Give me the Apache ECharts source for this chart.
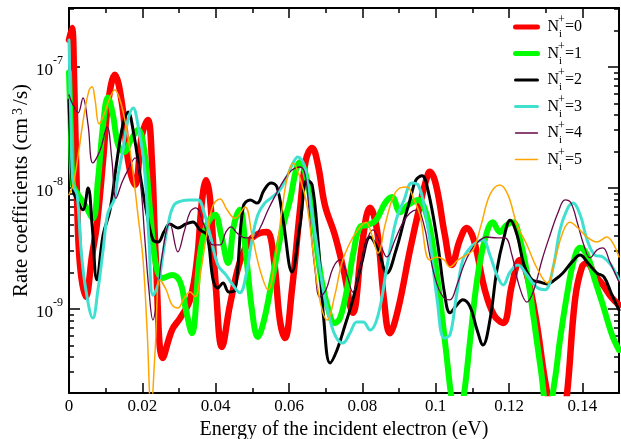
<!DOCTYPE html>
<html>
<head>
<meta charset="utf-8">
<script src="https://cdn.jsdelivr.net/npm/echarts@6/dist/echarts.min.js"></script>
<style>
html, body { margin: 0; padding: 0; background: #fff; }
#chart { width: 621px; height: 439px; }
</style>
</head>
<body>
<div id="chart"></div>
<script>
// [energy (eV), rate coefficient (cm^3/s)]
const n0 = [
    [0, 1.67e-7], [0.0008, 2.1e-7], [0.0014, 7.8e-8], [0.0022, 8e-9], [0.003, 2.31e-9],
    [0.0046, 1.26e-9], [0.0063, 2.79e-9], [0.0076, 4.95e-9], [0.0093, 1.7e-8], [0.0106, 4.85e-8],
    [0.0125, 8.6e-8], [0.0145, 4.85e-8], [0.0161, 1.7e-8], [0.018, 1.06e-8], [0.0199, 2.74e-8],
    [0.0215, 3.65e-8], [0.0226, 1.7e-8], [0.0237, 2.54e-9], [0.0256, 3.93e-10], [0.0281, 6.7e-10],
    [0.0303, 8.4e-10], [0.033, 1.19e-9], [0.0349, 2.54e-9], [0.0363, 7.96e-9], [0.0374, 1.16e-8],
    [0.0385, 7.96e-9], [0.0401, 1.44e-9], [0.0417, 4.85e-10], [0.0439, 1.08e-9], [0.0466, 2.45e-9],
    [0.0494, 3.72e-9], [0.0521, 4.25e-9], [0.054, 4.33e-9], [0.0559, 2.54e-9], [0.0575, 8.1e-10],
    [0.0589, 5.76e-10], [0.0608, 1.44e-9], [0.063, 6.6e-9], [0.0646, 1.7e-8], [0.0663, 2.14e-8],
    [0.0679, 1.55e-8], [0.0698, 7.2e-9], [0.0725, 4.09e-9], [0.075, 2.02e-9], [0.0774, 9.3e-10],
    [0.0799, 3.38e-9], [0.0821, 6.85e-9], [0.084, 4.5e-9], [0.0859, 1.19e-9], [0.0875, 6.3e-10],
    [0.0897, 9.8e-10], [0.093, 3.07e-9], [0.0957, 7.2e-9], [0.0974, 1.16e-8], [0.0984, 1.36e-8],
    [0.1001, 1.06e-8], [0.1025, 4.09e-9], [0.1044, 2.31e-9], [0.1066, 3.72e-9], [0.1085, 4.67e-9],
    [0.1104, 3.72e-9], [0.1134, 1.44e-9], [0.1159, 8.9e-10], [0.1184, 7.65e-10], [0.1208, 1.58e-9],
    [0.123, 2.54e-9], [0.1249, 1.91e-9], [0.1274, 8.1e-10], [0.1298, 2.59e-10], [0.132, 1.21e-10],
    [0.1339, 8.3e-11], [0.1358, 1.95e-10], [0.138, 1.19e-9], [0.1399, 2.22e-9], [0.1413, 2.4e-9],
    [0.1434, 1.91e-9], [0.1456, 1.58e-9], [0.1481, 1.23e-9], [0.15, 1.08e-9]
];
const n1 = [
    [0, 9.0e-8], [0.0005, 3.02e-8], [0.0011, 1.06e-8], [0.0025, 8.8e-9], [0.0044, 7.2e-9],
    [0.0065, 5.6e-9], [0.0079, 1.16e-8], [0.0093, 3.32e-8], [0.0106, 5.6e-8], [0.012, 4.0e-8],
    [0.0134, 2.27e-8], [0.015, 1.98e-8], [0.0169, 2.49e-8], [0.0188, 3.02e-8], [0.0205, 2.06e-8],
    [0.0221, 6.6e-9], [0.0237, 2.31e-9], [0.0256, 1.8e-9], [0.0281, 1.91e-9], [0.0303, 1.67e-9],
    [0.0319, 9.8e-10], [0.0335, 6.3e-10], [0.0357, 2.79e-9], [0.0376, 4.95e-9], [0.0398, 6.0e-9],
    [0.0415, 4.09e-9], [0.0434, 2.4e-9], [0.045, 4.95e-9], [0.0466, 6.6e-9], [0.0483, 2.79e-9],
    [0.0499, 9.8e-10], [0.0515, 5.87e-10], [0.0532, 8.1e-10], [0.0554, 1.74e-9], [0.0581, 4.5e-9],
    [0.0603, 7.96e-9], [0.0619, 1.41e-8], [0.063, 1.64e-8], [0.0646, 1.28e-8], [0.0665, 6.0e-9],
    [0.0684, 2.1e-9], [0.0704, 1.08e-9], [0.0725, 7.65e-10], [0.0739, 8.4e-10], [0.0758, 1.44e-9],
    [0.0777, 3.07e-9], [0.0794, 4.76e-9], [0.0815, 4.95e-9], [0.0837, 5.4e-9], [0.0862, 7.5e-9],
    [0.0881, 8.4e-9], [0.0903, 6.3e-9], [0.0924, 7.2e-9], [0.0952, 7.96e-9], [0.0971, 6.6e-9],
    [0.099, 3.72e-9], [0.1012, 1.19e-9], [0.1028, 4.58e-10], [0.1042, 1.95e-10], [0.1058, 1.0e-10],
    [0.1077, 1.95e-10], [0.1094, 5.54e-10], [0.1113, 1.74e-9], [0.1134, 3.72e-9], [0.1156, 5.2e-9],
    [0.1175, 4.33e-9], [0.1194, 4.95e-9], [0.1211, 5.2e-9], [0.123, 3.72e-9], [0.1249, 1.98e-9],
    [0.1268, 8.1e-10], [0.1287, 3.13e-10], [0.1306, 1.33e-10], [0.1325, 2.59e-10], [0.1339, 5.54e-10],
    [0.1358, 1.3e-9], [0.1377, 2.54e-9], [0.1394, 3.2e-9], [0.1413, 2.79e-9], [0.1434, 1.74e-9],
    [0.1456, 1.08e-9], [0.1481, 6.1e-10], [0.15, 4.58e-10]
];
const n2 = [
    [0, 5.34e-8], [0.0005, 2.06e-8], [0.0011, 9.6e-9], [0.0022, 7.96e-9], [0.0038, 6.6e-9],
    [0.0052, 1e-8], [0.0063, 4.95e-9], [0.0076, 1.74e-9], [0.0093, 4.09e-9], [0.0112, 6.6e-9],
    [0.0131, 1.7e-8], [0.0147, 3.32e-8], [0.0161, 4.25e-8], [0.0177, 2.74e-8], [0.0194, 1.28e-8],
    [0.0213, 6.0e-9], [0.0229, 3.72e-9], [0.0243, 3.58e-9], [0.0259, 4.33e-9], [0.0275, 5.04e-9],
    [0.0297, 4.67e-9], [0.0319, 5.04e-9], [0.0338, 5.23e-9], [0.0357, 4.5e-9], [0.0376, 4.09e-9],
    [0.0393, 1.74e-9], [0.0406, 1.49e-9], [0.042, 1.64e-9], [0.0436, 1.38e-9], [0.0453, 1.44e-9],
    [0.0475, 6.97e-9], [0.0494, 7.96e-9], [0.0513, 7.5e-9], [0.0532, 9.6e-9], [0.0551, 1.1e-8],
    [0.0567, 1.02e-8], [0.0584, 5.4e-9], [0.0608, 2.02e-9], [0.063, 4.95e-9], [0.0649, 1.16e-8],
    [0.0663, 1.06e-8], [0.0679, 3.72e-9], [0.0695, 8.1e-10], [0.0712, 3.58e-10], [0.0731, 4.58e-10],
    [0.0753, 7.37e-10], [0.0774, 1.19e-9], [0.0799, 2.45e-9], [0.0821, 3.93e-9], [0.0843, 3.07e-9],
    [0.0867, 1.98e-9], [0.0892, 3.07e-9], [0.0914, 5.4e-9], [0.093, 7.96e-9], [0.0946, 1.16e-8],
    [0.0963, 1.26e-8], [0.0979, 9.6e-9], [0.1004, 3.72e-9], [0.1025, 1.3e-9], [0.1039, 9.3e-10],
    [0.1058, 1.08e-9], [0.1074, 1.19e-9], [0.1094, 1.04e-9], [0.1113, 6.7e-10], [0.1129, 5.04e-10],
    [0.1148, 8.1e-10], [0.1167, 2.1e-9], [0.1186, 3.86e-9], [0.1203, 5.4e-9], [0.1222, 4.09e-9],
    [0.1241, 2.31e-9], [0.1263, 1.74e-9], [0.1284, 1.67e-9], [0.1304, 1.61e-9], [0.1325, 1.74e-9],
    [0.1347, 1.98e-9], [0.1372, 2.45e-9], [0.1394, 2.79e-9], [0.1415, 2.4e-9], [0.144, 1.98e-9],
    [0.1459, 1.84e-9], [0.1481, 1.3e-9], [0.15, 9.8e-10]
];
const n3 = [
    [0, 1.67e-7], [0.0005, 3.65e-8], [0.0011, 1.06e-8], [0.0022, 8.8e-9], [0.0033, 3.07e-9],
    [0.0046, 1.44e-9], [0.0065, 8.4e-10], [0.0079, 1.44e-9], [0.0093, 3.07e-9], [0.0106, 6.2e-9],
    [0.0123, 7.96e-9], [0.0134, 1.28e-8], [0.0147, 2.06e-8], [0.0161, 3.65e-8], [0.0175, 4.58e-8],
    [0.0188, 3.32e-8], [0.0205, 1.55e-8], [0.0218, 3.72e-9], [0.0229, 1.3e-9], [0.0243, 1.58e-9],
    [0.0256, 2.79e-9], [0.027, 4.95e-9], [0.0286, 7.2e-9], [0.0308, 7.81e-9], [0.033, 7.96e-9],
    [0.0352, 7.96e-9], [0.0368, 6.3e-9], [0.0385, 4.09e-9], [0.0406, 2.31e-9], [0.0428, 1.91e-9],
    [0.0447, 1.58e-9], [0.0466, 1.36e-9], [0.0483, 1.91e-9], [0.0499, 3.72e-9], [0.0515, 6.0e-9],
    [0.0534, 7.5e-9], [0.0554, 8.4e-9], [0.0575, 9.6e-9], [0.0594, 1.23e-8], [0.0611, 1.61e-8],
    [0.0624, 1.8e-8], [0.0641, 1.55e-8], [0.0657, 7.96e-9], [0.0674, 3.72e-9], [0.0693, 1.44e-9],
    [0.0712, 8.1e-10], [0.0728, 5.87e-10], [0.0747, 5.23e-10], [0.0766, 6.3e-10], [0.0785, 7.81e-10],
    [0.0802, 7.81e-10], [0.0821, 6.7e-10], [0.0843, 8.9e-10], [0.0867, 2.22e-9], [0.0892, 5.4e-9],
    [0.0914, 7.96e-9], [0.0935, 1.1e-8], [0.0952, 1.06e-8], [0.0968, 7.2e-9], [0.0984, 3.72e-9],
    [0.1004, 1.19e-9], [0.1023, 5.76e-10], [0.1039, 6.1e-10], [0.1055, 1.19e-9], [0.1074, 2.54e-9],
    [0.1094, 3.2e-9], [0.1113, 3.58e-9], [0.1129, 3.72e-9], [0.1148, 2.79e-9], [0.1167, 1.91e-9],
    [0.1184, 1.58e-9], [0.1203, 2.02e-9], [0.1224, 2.31e-9], [0.1249, 1.91e-9], [0.1274, 1.52e-9],
    [0.1298, 1.44e-9], [0.132, 2.18e-9], [0.1339, 4.5e-9], [0.1358, 6.6e-9], [0.1374, 7.5e-9],
    [0.1394, 6.0e-9], [0.1413, 3.72e-9], [0.1434, 2.79e-9], [0.1456, 2.69e-9], [0.1478, 2.31e-9],
    [0.15, 1.74e-9]
];
const n4 = [
    [0, 5.87e-8], [0.0011, 4.85e-8], [0.0025, 4.17e-8], [0.0038, 5.54e-8], [0.0052, 3.32e-8],
    [0.0065, 1.61e-8], [0.0085, 2.06e-8], [0.0104, 3.2e-8], [0.0117, 1.7e-8], [0.0128, 8.2e-9],
    [0.0145, 1.12e-8], [0.0161, 1.41e-8], [0.018, 1.77e-8], [0.0194, 1.16e-8], [0.0207, 3.72e-9],
    [0.0218, 1.44e-9], [0.0229, 8.1e-10], [0.024, 1.19e-9], [0.0254, 2.79e-9], [0.0275, 5.1e-9],
    [0.0297, 2.96e-9], [0.0314, 4.33e-9], [0.033, 6.3e-9], [0.0346, 6.85e-9], [0.0368, 4.95e-9],
    [0.0393, 3.38e-9], [0.0412, 3.38e-9], [0.0428, 4.33e-9], [0.0442, 4.76e-9], [0.0458, 4.25e-9],
    [0.0483, 3.86e-9], [0.0502, 3.86e-9], [0.0521, 4.67e-9], [0.0543, 6.6e-9], [0.0564, 8.8e-9],
    [0.0586, 1.16e-8], [0.0608, 1.41e-8], [0.063, 1.49e-8], [0.0644, 1.28e-8], [0.0657, 5.4e-9],
    [0.0671, 2.1e-9], [0.0684, 1.26e-9], [0.0701, 1.44e-9], [0.072, 2.18e-9], [0.0739, 2.54e-9],
    [0.0758, 1.91e-9], [0.0774, 1.38e-9], [0.0794, 2.18e-9], [0.0813, 3.72e-9], [0.0829, 4.5e-9],
    [0.0848, 3.51e-9], [0.0867, 2.69e-9], [0.0889, 3.72e-9], [0.0911, 5.2e-9], [0.093, 6.2e-9],
    [0.0949, 6.6e-9], [0.0968, 4.95e-9], [0.0984, 2.79e-9], [0.1004, 1.58e-9], [0.1023, 1.23e-9],
    [0.1039, 1.19e-9], [0.1058, 1.58e-9], [0.1077, 2.31e-9], [0.1094, 2.96e-9], [0.1115, 3.58e-9],
    [0.114, 3.93e-9], [0.1167, 3.86e-9], [0.1189, 3.86e-9], [0.1208, 2.79e-9], [0.1227, 1.58e-9],
    [0.1249, 1.14e-9], [0.1268, 1.44e-9], [0.129, 2.54e-9], [0.1312, 4.09e-9], [0.1334, 6.3e-9],
    [0.1353, 7.96e-9], [0.1369, 7.5e-9], [0.1388, 4.95e-9], [0.1404, 3.38e-9], [0.1421, 2.64e-9],
    [0.144, 3.07e-9], [0.1456, 3.2e-9], [0.1475, 2.45e-9], [0.15, 1.67e-9]
];
const n5 = [
    [0, 8.8e-9], [0.0011, 1.06e-8], [0.0025, 1.87e-8], [0.0041, 4.0e-8], [0.0055, 6.46e-8],
    [0.0063, 6.85e-8], [0.0071, 5.34e-8], [0.0082, 3.38e-8], [0.0095, 4.0e-8], [0.0112, 5.6e-8],
    [0.0125, 6.46e-8], [0.0139, 5.34e-8], [0.0155, 3.32e-8], [0.0172, 1.55e-8], [0.0188, 6.0e-9],
    [0.0202, 2.54e-9], [0.0213, 6.7e-10], [0.0224, 1.46e-10], [0.0235, 4.58e-10], [0.0248, 1.74e-9],
    [0.0265, 1.44e-9], [0.0281, 1.08e-9], [0.0297, 1.02e-9], [0.0314, 1.23e-9], [0.033, 1.38e-9],
    [0.0344, 1.26e-9], [0.036, 2.1e-9], [0.0376, 4.25e-9], [0.0393, 7.2e-9], [0.0412, 8.1e-9],
    [0.0431, 6.6e-9], [0.0453, 5.6e-9], [0.048, 6.97e-9], [0.0499, 4.09e-9], [0.0521, 2.1e-9],
    [0.0543, 1.44e-9], [0.0564, 2.79e-9], [0.0581, 6.6e-9], [0.0594, 1.16e-8], [0.0611, 1.61e-8],
    [0.063, 1.21e-8], [0.0649, 7.2e-9], [0.0665, 3.07e-9], [0.0684, 1.19e-9], [0.0704, 8.1e-10],
    [0.0725, 1.3e-9], [0.0744, 2.4e-9], [0.0766, 3.51e-9], [0.0788, 4.5e-9], [0.081, 5.2e-9],
    [0.0826, 4.09e-9], [0.0843, 2.9e-9], [0.0862, 4.95e-9], [0.0884, 8.4e-9], [0.0903, 1e-8],
    [0.0922, 1.02e-8], [0.0941, 7.96e-9], [0.0957, 6.0e-9], [0.0984, 2.54e-9], [0.1004, 2.69e-9],
    [0.1023, 2.54e-9], [0.1039, 2.22e-9], [0.1061, 2.54e-9], [0.1083, 2.79e-9], [0.1102, 3.07e-9],
    [0.1124, 4.95e-9], [0.1148, 8.8e-9], [0.1175, 1.06e-8], [0.1197, 8.8e-9], [0.1222, 4.95e-9],
    [0.1249, 3.38e-9], [0.1276, 2.18e-9], [0.1304, 1.64e-9], [0.1325, 2.54e-9], [0.1347, 4.33e-9],
    [0.1366, 5.2e-9], [0.1388, 4.67e-9], [0.1413, 3.93e-9], [0.144, 3.58e-9], [0.1467, 3.93e-9],
    [0.1486, 3.38e-9], [0.15, 2.69e-9]
];

const seriesLabels = ['0', '1', '2', '3', '4', '5'];
const xMajorTicks = [0, 0.02, 0.04, 0.06, 0.08, 0.1, 0.12, 0.14];
const xMinorTicks = [0.01, 0.03, 0.05, 0.07, 0.09, 0.11, 0.13];
const yMajorTicks = [1e-9, 1e-8, 1e-7];
const yMinorTicks = [
    3e-10, 4e-10, 5e-10, 6e-10, 7e-10, 8e-10, 9e-10,
    2e-9, 3e-9, 4e-9, 5e-9, 6e-9, 7e-9, 8e-9, 9e-9,
    2e-8, 3e-8, 4e-8, 5e-8, 6e-8, 7e-8, 8e-8, 9e-8,
    2e-7, 3e-7
];

const font = 'Liberation Serif';
const lines = [
    { data: n0, color: '#ff0000', width: 6.5, legendWidth: 5 },
    { data: n1, color: '#00ff00', width: 6, legendWidth: 5 },
    { data: n2, color: '#000000', width: 3, legendWidth: 3 },
    { data: n3, color: '#40e0d0', width: 3, legendWidth: 3 },
    { data: n4, color: '#670748', width: 1.3, legendWidth: 1.3 },
    { data: n5, color: '#ffa500', width: 1.5, legendWidth: 1.5 }
];

const tickStyle = { color: '#000', width: 1.5 };

const xAxisDef = (position, ticks, length, main) => ({
    type: 'value',
    position,
    min: 0,
    max: 0.15,
    axisLine: { show: main, onZero: false, lineStyle: { color: '#000', width: 2 } },
    axisTick: { inside: true, length, customValues: ticks, lineStyle: tickStyle },
    axisLabel: {
        show: main && position === 'bottom',
        customValues: ticks,
        margin: 5,
        color: '#000',
        fontFamily: font,
        fontSize: 17
    },
    splitLine: { show: false }
});

const yAxisDef = (position, ticks, length, main) => ({
    type: 'log',
    position,
    min: 2.02e-10,
    max: 3.07e-7,
    axisLine: { show: main, onZero: false, lineStyle: { color: '#000', width: 2 } },
    axisTick: { inside: true, length, customValues: ticks, lineStyle: tickStyle },
    axisLabel: {
        show: main && position === 'left',
        customValues: ticks,
        margin: 6,
        formatter: (v) => '{b|10}{s|' + Math.round(Math.log10(v)) + '}',
        rich: {
            b: { fontFamily: font, fontSize: 17, color: '#000', lineHeight: 14, verticalAlign: 'bottom' },
            s: { fontFamily: font, fontSize: 12, color: '#000', lineHeight: 24, verticalAlign: 'top' }
        }
    },
    splitLine: { show: false }
});

const xAxes = [
    xAxisDef('bottom', xMajorTicks, 10, true),
    xAxisDef('bottom', xMinorTicks, 5, false),
    xAxisDef('top', xMajorTicks, 10, true),
    xAxisDef('top', xMinorTicks, 5, false)
];
Object.assign(xAxes[0], {
    name: 'Energy of the incident electron (eV)',
    nameLocation: 'middle',
    nameGap: 24,
    nameTextStyle: { fontFamily: font, fontSize: 20, color: '#000' }
});

const yAxes = [
    yAxisDef('left', yMajorTicks, 11, true),
    yAxisDef('left', yMinorTicks, 5, false),
    yAxisDef('right', yMajorTicks, 11, true),
    yAxisDef('right', yMinorTicks, 5, false)
];
Object.assign(yAxes[0], {
    name: 'Rate coefficients (cm{s|3}/s)',
    nameLocation: 'middle',
    nameGap: 37,
    nameMoveOverlap: false,
    nameTextStyle: {
        fontFamily: font,
        fontSize: 21,
        color: '#000',
        padding: [0, 0, 0, 20],
        rich: {
            s: { fontFamily: font, fontSize: 14, color: '#000', lineHeight: 12, verticalAlign: 'top', padding: [0, 3, 0, 3] }
        }
    }
});

const chart = echarts.init(document.getElementById('chart'), null, { renderer: 'canvas' });
chart.setOption({
    animation: false,
    backgroundColor: '#fff',
    grid: { left: 69, right: 2, top: 8, bottom: 46, containLabel: false, outerBoundsMode: 'none' },
    xAxis: xAxes,
    yAxis: yAxes,
    legend: {
        orient: 'vertical',
        left: 508,
        top: 9,
        itemWidth: 22,
        itemHeight: 10,
        itemGap: 0.5,
        selectedMode: false,
        itemStyle: { opacity: 0 },
        data: lines.map((l, i) => ({ name: seriesLabels[i], lineStyle: { width: l.legendWidth } })),
        formatter: (name) => '{n|N}{i|i}{p|+}{n|=' + name + '}',
        textStyle: {
            fontFamily: font,
            fontSize: 16,
            color: '#000',
            padding: [0, 0, 0, 5],
            rich: {
                n: { fontFamily: font, fontSize: 16, color: '#000', lineHeight: 26 },
                i: { fontFamily: font, fontSize: 11, color: '#000', lineHeight: 10, verticalAlign: 'bottom' },
                p: { fontFamily: font, fontSize: 12, color: '#000', lineHeight: 12, verticalAlign: 'top', padding: [0, 0, 0, -4] }
            }
        }
    },
    series: lines.map((l, i) => ({
        name: seriesLabels[i],
        type: 'line',
        xAxisIndex: 0,
        yAxisIndex: 0,
        data: l.data,
        smooth: 0.4,
        symbol: 'none',
        clip: true,
        lineStyle: { color: l.color, width: l.width, join: 'round', cap: 'round' },
        itemStyle: { color: l.color }
    }))
});
</script>
</body>
</html>
